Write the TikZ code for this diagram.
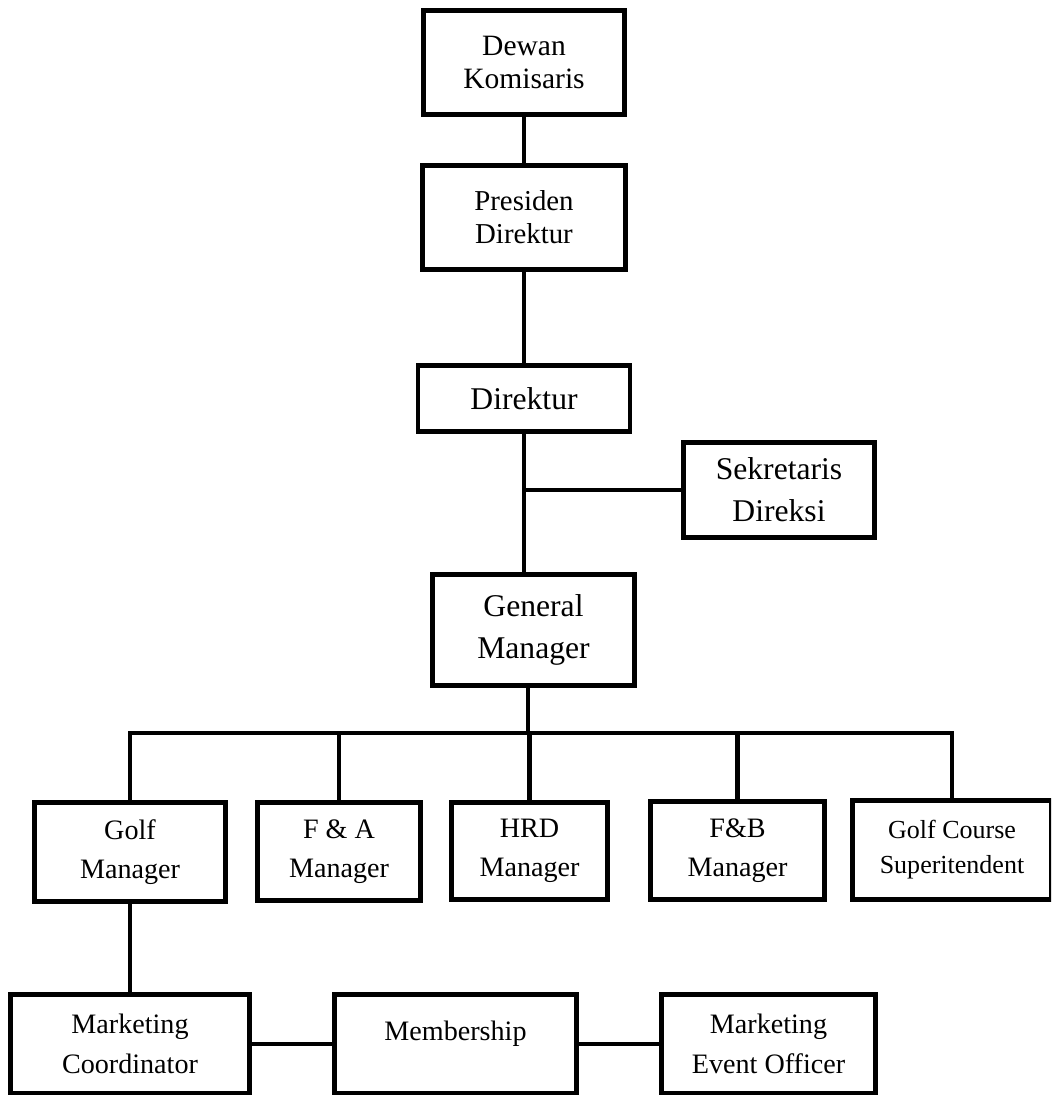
\documentclass[tikz,border=0pt]{standalone}
\usepackage{fontspec}
\setmainfont{Liberation Serif}

\begin{document}
\begin{tikzpicture}[
x=0.025cm, y=-0.025cm,
line width=3.4pt,
every node/.style={draw,align=center,inner sep=0pt,
font=\fontsize{20}{28}\selectfont},
big/.style={font=\fontsize{22.5}{30}\selectfont},
small/.style={font=\fontsize{20.5}{23.5}\selectfont}]

\clip (0,0) rectangle (1051,1095);

\node (dk) [font=\fontsize{21}{23.5}\selectfont,minimum width=5.025cm,minimum height=2.6cm] at (524,62.5) {Dewan\\Komisaris};

\node (pd) [small,minimum width=5.075cm,minimum height=2.6cm] at (524,217.5) {Presiden\\Direktur};

\node (dir) [big,minimum width=5.3cm,minimum height=1.65cm] at (524,398.5) {Direktur};

\node (sek) [big,minimum width=4.775cm,minimum height=2.375cm] at (779,490) {Sekretaris\\Direksi};

\node (gm) [big,minimum width=5.05cm,minimum height=2.775cm] at (533.5,630) {General\\Manager};

\coordinate (bus) at (528,733);

\node (golf) [minimum width=4.775cm,minimum height=2.475cm] at (130,852) {Golf\\Manager};

\node (fa) [minimum width=4.075cm,minimum height=2.45cm] at (339,851.5) {F \& A\\Manager};

\node (hrd) [minimum width=3.9cm,minimum height=2.425cm] at (529.5,851) {HRD\\Manager};

\node (fb) [minimum width=4.35cm,minimum height=2.45cm] at (737.5,850.5) {F\&B\\Manager};

\node (gcs) [font=\fontsize{18.5}{25}\selectfont,minimum width=4.975cm,minimum height=2.475cm] at (952,850) {Golf Course\\Superitendent};

\node (mc) [minimum width=5.975cm,minimum height=2.475cm] at (130,1044) {Marketing\\Coordinator};

\node (mem) [text depth=0.65cm,minimum width=6.05cm,minimum height=2.475cm] at (455.5,1044) {Membership};

\node (meo) [minimum width=5.35cm,minimum height=2.475cm] at (768.5,1044) {Marketing\\Event Officer};

\draw (dk)--(pd);
\draw (pd)--(dir);
\draw (dir)--(dir |- gm.north);
\draw (sek.west)--(sek.west -| dir);
\draw (gm.south -| bus)--(bus);

\draw (golf.north) |- (bus) -| (gcs.north);
\foreach \m in {fa,hrd,fb}
  \draw (\m.north)--(\m.north |- bus);

\draw (golf)--(mc);
\draw (mc)--(mem);
\draw (mem)--(meo);

\end{tikzpicture}
\end{document}
